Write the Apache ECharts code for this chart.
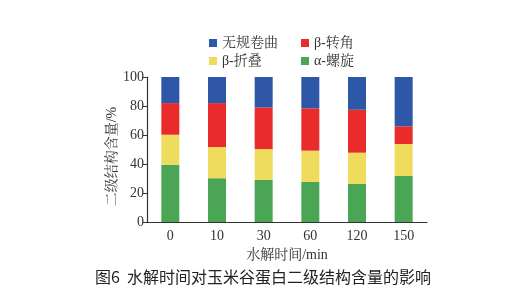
<!DOCTYPE html>
<html><head><meta charset="utf-8">
<script src="https://cdn.jsdelivr.net/npm/echarts@6/dist/echarts.min.js"></script>
<style>html,body{margin:0;padding:0;background:#fff}#c{width:530px;height:304px}</style>
</head><body><div id="c"></div>
<script>
const categories = ['0','10','30','60','120','150'];
const alphaHelix = [39.5, 30.2, 29.1, 27.6, 26.4, 31.8];
const betaSheet  = [20.7, 21.5, 21.2, 21.6, 21.4, 22.0];
const betaTurn   = [21.8, 30.3, 28.7, 29.2, 29.6, 12.2];
const randomCoil = [18.0, 18.0, 21.0, 21.6, 22.6, 34.0];
const seriesNames = ['α-螺旋','β-折叠','β-转角','无规卷曲'];
const yTicks = [0,20,40,60,80,100];

const colors = ['#4aa655','#efdc5c','#e92b2b','#2f57a8'];
const serif = '"Liberation Serif","Noto Serif CJK SC","Noto Sans CJK SC",serif';
const chart = echarts.init(document.getElementById('c'));
const data = [alphaHelix, betaSheet, betaTurn, randomCoil];
const lg = (name, left, top) => ({data:[name], left, top, padding:0, itemWidth:8, itemHeight:8, icon:'rect', itemGap:0,
  textStyle:{fontSize:14, color:'#333', fontFamily:serif}});
chart.setOption({
  animation:false,
  textStyle:{fontFamily:serif},
  legend:[lg('无规卷曲',209,36), lg('β-转角',301,36), lg('β-折叠',209,54), lg('α-螺旋',301,54)],
  grid:{left:147, right:103, top:77, bottom:82},
  xAxis:{type:'category', data:categories,
    name:'水解时间/min', nameLocation:'middle', nameGap:26,
    nameTextStyle:{fontSize:14, color:'#333', fontFamily:serif},
    axisLine:{lineStyle:{color:'#333', width:1.2}},
    axisTick:{inside:true, length:5, lineStyle:{color:'#333'}},
    axisLabel:{fontSize:14, color:'#333', margin:7}},
  yAxis:{type:'value', min:0, max:100, interval:20,
    name:'二级结构含量/%', nameLocation:'middle', nameGap:28, nameRotate:90, nameMoveOverlap:false,
    nameTextStyle:{fontSize:14, color:'#333', fontFamily:serif, padding:[0,14,0,0]},
    axisLine:{show:true, lineStyle:{color:'#333', width:1.2}},
    axisTick:{show:true, length:4, lineStyle:{color:'#333'}},
    splitLine:{show:false},
    axisLabel:{fontSize:14, color:'#333', margin:3,
      formatter:v=> yTicks.includes(v)? String(v):''}},
  series: seriesNames.map((n,i)=>({
    name:n, type:'bar', stack:'s', barWidth:18, data:data[i],
    itemStyle:{color:colors[i]}
  })),
  graphic:[{type:'text', left:95, top:269,
    style:{text:'图6  水解时间对玉米谷蛋白二级结构含量的影响', fontSize:16, fill:'#222',
      fontFamily:'"Noto Sans CJK SC",sans-serif'}}]
});
</script></body></html>
